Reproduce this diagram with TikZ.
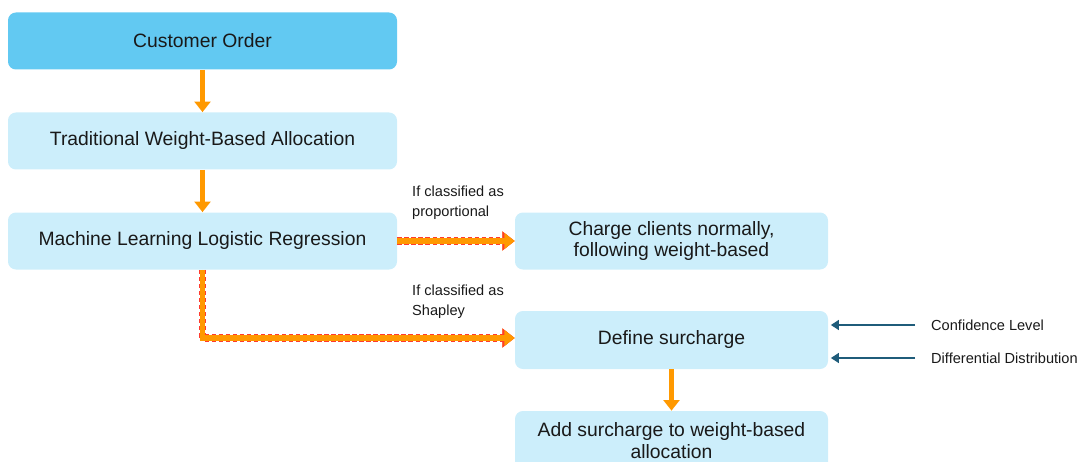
\documentclass[tikz,border=0pt]{standalone}
\usepackage{fontspec}
\setmainfont{Liberation Sans}
\usepackage{xcolor}
\usepackage{tikz}
\usetikzlibrary{arrows.meta,positioning}

\definecolor{orderblue}{HTML}{62C9F2}
\definecolor{stepblue}{HTML}{CCEEFB}
\definecolor{flowOrange}{HTML}{FF9900}
\definecolor{dashRed}{HTML}{FF3B2F}
\definecolor{inputBlue}{HTML}{1F5C7A}

\begin{document}
\begin{tikzpicture}[
  box/.style={rounded corners=4.5pt, fill=stepblue, minimum height=1.14cm,
    align=center, text=black!90, font=\fontsize{11}{12.5}\selectfont},
  widebox/.style={box, minimum width=7.78cm},
  sidebox/.style={box, minimum width=6.26cm},
  note/.style={align=left, anchor=west, text=black!90, font=\fontsize{8.3}{11.3}\selectfont},
  flow/.style={draw=flowOrange, line width=2.8pt, -{Triangle[length=6pt,width=9pt]}},
  fatflow/.style={draw=dashRed, line width=4.4pt, dash pattern=on 2.5pt off 1.5pt,
    line join=miter, -{Triangle[length=7pt,width=10.5pt]},
    preaction={draw=flowOrange, solid},
    postaction={draw=flowOrange, solid, line width=3.2pt, -{Triangle[length=5.8pt,width=8.6pt]}}},
  input/.style={draw=inputBlue, line width=1.5pt, -{Triangle[length=4.5pt,width=5.5pt]}}
]
\clip (0,0) rectangle (21.64,-9.24);

% Main column
\node[widebox, fill=orderblue] (order) at (4.05,-0.82) {Customer Order};
\node[widebox] (trad) at (4.05,-2.82) {Traditional Weight-Based Allocation};
\node[widebox] (ml) at (4.05,-4.82) {Machine Learning Logistic Regression};

% Outcomes
\node[sidebox] (charge) at (13.43,-4.82) {Charge clients normally,\\following weight-based};
\node[sidebox, minimum height=1.16cm] (surch) at (13.43,-6.80) {Define surcharge};
\node[sidebox, minimum height=1.2cm] (add) at (13.43,-8.82) {Add surcharge to weight-based\\allocation};

% Branch labels
\node[note] (lblprop) at (8.12,-4.06) {If classified as\\proportional};
\node[note] (lblshap) at (8.12,-6.04) {If classified as\\Shapley};

% Inputs to surcharge
\node[note] (conf) at (18.5,-6.50) {Confidence Level};
\node[note] (diff) at (18.5,-7.16) {Differential Distribution};

% Arrows
\draw[flow] (order) -- (trad);
\draw[flow] (trad) -- (ml);
\draw[flow] (surch) -- (add);
\draw[fatflow] (ml.east) -- (charge.west);
\draw[fatflow] (ml.south) |- ([yshift=0.04cm]surch.west);
\draw[input] ([xshift=-0.2cm]conf.west) -- ([xshift=0.05cm]conf.west -| surch.east);
\draw[input] ([xshift=-0.2cm]diff.west) -- ([xshift=0.05cm]diff.west -| surch.east);
\end{tikzpicture}
\end{document}
